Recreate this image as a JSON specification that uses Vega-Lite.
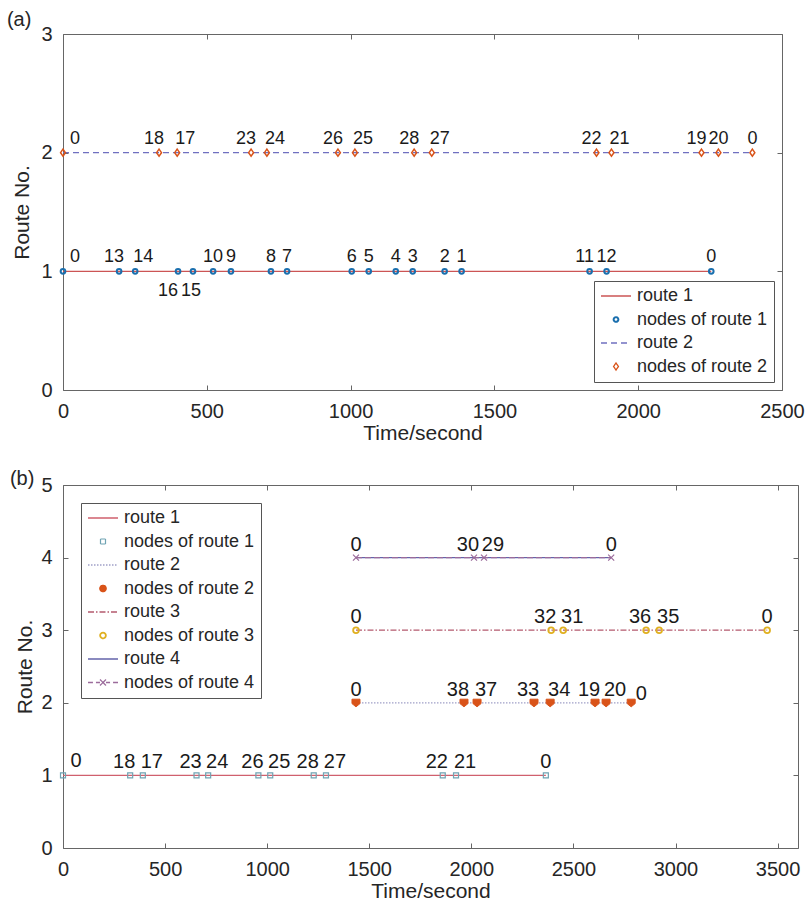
{
  "$schema": "https://vega.github.io/schema/vega-lite/v6.json",
  "background": "white",
  "padding": {"top": 9, "left": 6, "right": 0, "bottom": 0},
  "config": {
    "font": "Liberation Sans",
    "view": {"stroke": "#666", "strokeWidth": 1},
    "axis": {"grid": false, "domain": false, "tickColor": "#666", "tickWidth": 1, "labelColor": "#262626", "titleColor": "#262626", "labelFontSize": 20, "titleFontSize": 21, "titleFontWeight": "normal", "tickSize": -5, "labelPadding": 16, "format": "d", "labelFlush": false},
    "title": {"fontSize": 20, "fontWeight": "normal", "color": "#262626"},
    "legend": {"labelFontSize": 18, "labelColor": "#262626", "labelOffset": 12, "symbolOffset": 7, "strokeColor": "#555", "fillColor": "white", "padding": 6, "rowPadding": 5.5, "symbolSize": 900, "symbolType": "stroke", "symbolStrokeWidth": 1.3, "labelLimit": 300, "columns": 1}
  },
  "datasets": {
    "a": [
      {"route": 1, "t": 0, "node": "0", "series": "route 1", "nodes": "nodes of route 1"},
      {"route": 1, "t": 195, "node": "13", "series": "route 1", "nodes": "nodes of route 1"},
      {"route": 1, "t": 251, "node": "14", "series": "route 1", "nodes": "nodes of route 1"},
      {"route": 1, "t": 400, "node": "16", "series": "route 1", "nodes": "nodes of route 1"},
      {"route": 1, "t": 452, "node": "15", "series": "route 1", "nodes": "nodes of route 1"},
      {"route": 1, "t": 522, "node": "10", "series": "route 1", "nodes": "nodes of route 1"},
      {"route": 1, "t": 584, "node": "9", "series": "route 1", "nodes": "nodes of route 1"},
      {"route": 1, "t": 723, "node": "8", "series": "route 1", "nodes": "nodes of route 1"},
      {"route": 1, "t": 779, "node": "7", "series": "route 1", "nodes": "nodes of route 1"},
      {"route": 1, "t": 1004, "node": "6", "series": "route 1", "nodes": "nodes of route 1"},
      {"route": 1, "t": 1063, "node": "5", "series": "route 1", "nodes": "nodes of route 1"},
      {"route": 1, "t": 1157, "node": "4", "series": "route 1", "nodes": "nodes of route 1"},
      {"route": 1, "t": 1216, "node": "3", "series": "route 1", "nodes": "nodes of route 1"},
      {"route": 1, "t": 1327, "node": "2", "series": "route 1", "nodes": "nodes of route 1"},
      {"route": 1, "t": 1386, "node": "1", "series": "route 1", "nodes": "nodes of route 1"},
      {"route": 1, "t": 1831, "node": "11", "series": "route 1", "nodes": "nodes of route 1"},
      {"route": 1, "t": 1890, "node": "12", "series": "route 1", "nodes": "nodes of route 1"},
      {"route": 1, "t": 2254, "node": "0", "series": "route 1", "nodes": "nodes of route 1"},
      {"route": 2, "t": 0, "node": "0", "series": "route 2", "nodes": "nodes of route 2"},
      {"route": 2, "t": 334, "node": "18", "series": "route 2", "nodes": "nodes of route 2"},
      {"route": 2, "t": 397, "node": "17", "series": "route 2", "nodes": "nodes of route 2"},
      {"route": 2, "t": 654, "node": "23", "series": "route 2", "nodes": "nodes of route 2"},
      {"route": 2, "t": 709, "node": "24", "series": "route 2", "nodes": "nodes of route 2"},
      {"route": 2, "t": 956, "node": "26", "series": "route 2", "nodes": "nodes of route 2"},
      {"route": 2, "t": 1015, "node": "25", "series": "route 2", "nodes": "nodes of route 2"},
      {"route": 2, "t": 1221, "node": "28", "series": "route 2", "nodes": "nodes of route 2"},
      {"route": 2, "t": 1282, "node": "27", "series": "route 2", "nodes": "nodes of route 2"},
      {"route": 2, "t": 1855, "node": "22", "series": "route 2", "nodes": "nodes of route 2"},
      {"route": 2, "t": 1907, "node": "21", "series": "route 2", "nodes": "nodes of route 2"},
      {"route": 2, "t": 2220, "node": "19", "series": "route 2", "nodes": "nodes of route 2"},
      {"route": 2, "t": 2279, "node": "20", "series": "route 2", "nodes": "nodes of route 2"},
      {"route": 2, "t": 2397, "node": "0", "series": "route 2", "nodes": "nodes of route 2"}
    ],
    "b": [
      {"route": 1, "t": 0, "node": "0", "series": "route 1", "nodes": "nodes of route 1"},
      {"route": 1, "t": 329, "node": "18", "series": "route 1", "nodes": "nodes of route 1"},
      {"route": 1, "t": 391, "node": "17", "series": "route 1", "nodes": "nodes of route 1"},
      {"route": 1, "t": 654, "node": "23", "series": "route 1", "nodes": "nodes of route 1"},
      {"route": 1, "t": 711, "node": "24", "series": "route 1", "nodes": "nodes of route 1"},
      {"route": 1, "t": 957, "node": "26", "series": "route 1", "nodes": "nodes of route 1"},
      {"route": 1, "t": 1015, "node": "25", "series": "route 1", "nodes": "nodes of route 1"},
      {"route": 1, "t": 1228, "node": "28", "series": "route 1", "nodes": "nodes of route 1"},
      {"route": 1, "t": 1288, "node": "27", "series": "route 1", "nodes": "nodes of route 1"},
      {"route": 1, "t": 1860, "node": "22", "series": "route 1", "nodes": "nodes of route 1"},
      {"route": 1, "t": 1925, "node": "21", "series": "route 1", "nodes": "nodes of route 1"},
      {"route": 1, "t": 2365, "node": "0", "series": "route 1", "nodes": "nodes of route 1"},
      {"route": 2, "t": 1435, "node": "0", "series": "route 2", "nodes": "nodes of route 2"},
      {"route": 2, "t": 1964, "node": "38", "series": "route 2", "nodes": "nodes of route 2"},
      {"route": 2, "t": 2028, "node": "37", "series": "route 2", "nodes": "nodes of route 2"},
      {"route": 2, "t": 2307, "node": "33", "series": "route 2", "nodes": "nodes of route 2"},
      {"route": 2, "t": 2386, "node": "34", "series": "route 2", "nodes": "nodes of route 2"},
      {"route": 2, "t": 2606, "node": "19", "series": "route 2", "nodes": "nodes of route 2"},
      {"route": 2, "t": 2660, "node": "20", "series": "route 2", "nodes": "nodes of route 2"},
      {"route": 2, "t": 2783, "node": "0", "series": "route 2", "nodes": "nodes of route 2"},
      {"route": 3, "t": 1435, "node": "0", "series": "route 3", "nodes": "nodes of route 3"},
      {"route": 3, "t": 2391, "node": "32", "series": "route 3", "nodes": "nodes of route 3"},
      {"route": 3, "t": 2450, "node": "31", "series": "route 3", "nodes": "nodes of route 3"},
      {"route": 3, "t": 2856, "node": "36", "series": "route 3", "nodes": "nodes of route 3"},
      {"route": 3, "t": 2920, "node": "35", "series": "route 3", "nodes": "nodes of route 3"},
      {"route": 3, "t": 3449, "node": "0", "series": "route 3", "nodes": "nodes of route 3"},
      {"route": 4, "t": 1435, "node": "0", "series": "route 4", "nodes": "nodes of route 4"},
      {"route": 4, "t": 2013, "node": "30", "series": "route 4", "nodes": "nodes of route 4"},
      {"route": 4, "t": 2062, "node": "29", "series": "route 4", "nodes": "nodes of route 4"},
      {"route": 4, "t": 2685, "node": "0", "series": "route 4", "nodes": "nodes of route 4"}
    ]
  },
  "spacing": 24,
  "resolve": {"scale": {"color": "independent", "shape": "independent", "strokeDash": "independent"}, "legend": {"color": "independent"}},
  "vconcat": [
    {
      "width": 719,
      "height": 356,
      "title": {"text": "(a)", "anchor": "start", "frame": "bounds", "offset": -6, "dx": -5},
      "data": {"name": "a"},
      "layer": [
        {
          "mark": {"type": "line", "strokeWidth": 1.3},
          "encoding": {
            "x": {"field": "t", "type": "quantitative", "scale": {"domain": [0, 2500], "nice": false, "zero": false}, "axis": {"orient": "bottom", "values": [0, 500, 1000, 1500, 2000, 2500], "title": "Time/second", "titlePadding": 1}},
            "y": {"field": "route", "type": "quantitative", "scale": {"domain": [0, 3], "nice": false, "zero": false}, "axis": {"orient": "left", "values": [0, 1, 2, 3], "title": "Route No.", "titlePadding": 8}},
            "color": {
              "field": "series", "type": "nominal",
              "scale": {"domain": ["route 1", "nodes of route 1", "route 2", "nodes of route 2"], "range": ["#cc5555", "#1a6fae", "#7070c0", "#d95319"]},
              "legend": {
                "title": null, "orient": "bottom-right", "offset": 8,
                "encode": {"symbols": {"update": {
                  "shape": {"signal": "datum.value === 'nodes of route 1' ? 'circle' : datum.value === 'nodes of route 2' ? 'M0,-1L0.7,0L0,1L-0.7,0Z' : 'stroke'"},
                  "size": {"signal": "datum.value === 'nodes of route 1' ? 22 : datum.value === 'nodes of route 2' ? 49 : 900"},
                  "stroke": {"signal": "datum.value === 'route 1' ? '#cc5555' : datum.value === 'nodes of route 1' ? '#1a6fae' : datum.value === 'route 2' ? '#7070c0' : '#d95319'"},
                  "fill": {"value": "transparent"},
                  "strokeDash": {"signal": "datum.value === 'route 2' ? [6, 4] : [1, 0]"},
                  "strokeWidth": {"signal": "datum.value === 'nodes of route 1' ? 2 : 1.3"},
                  "opacity": {"value": 1}
                }}}
              }
            },
            "strokeDash": {"field": "series", "type": "nominal", "scale": {"domain": ["route 1", "route 2"], "range": [[1, 0], [6, 4]]}, "legend": null}
          }
        },
        {
          "transform": [{"filter": "datum.route === 1"}],
          "mark": {"type": "point", "filled": false, "strokeWidth": 2, "size": 22, "opacity": 1, "shape": "circle"},
          "encoding": {
            "x": {"field": "t", "type": "quantitative", "axis": null},
            "y": {"field": "route", "type": "quantitative", "axis": null},
            "color": {"field": "nodes", "type": "nominal"}
          }
        },
        {
          "transform": [{"filter": "datum.route === 2"}],
          "mark": {"type": "point", "filled": false, "strokeWidth": 1.5, "size": 49, "opacity": 1, "shape": "M0,-1L0.7,0L0,1L-0.7,0Z"},
          "encoding": {
            "x": {"field": "t", "type": "quantitative", "axis": null},
            "y": {"field": "route", "type": "quantitative", "axis": null},
            "color": {"field": "nodes", "type": "nominal"}
          }
        },
        {
          "transform": [{"filter": "datum.t > 0 && !(datum.route === 1 && indexof(['16','15','13','11','14'], datum.node) >= 0) && !(datum.route === 2 && indexof(['18','23','26','28','22','19','17','24','25','27','21'], datum.node) >= 0)"}],
          "mark": {"type": "text", "fontSize": 18, "color": "#1a1a1a", "dy": -9, "baseline": "alphabetic"},
          "encoding": {
            "x": {"field": "t", "type": "quantitative", "axis": {"orient": "top", "values": [0, 500, 1000, 1500, 2000, 2500], "labels": false, "title": null}},
            "y": {"field": "route", "type": "quantitative", "axis": {"orient": "right", "values": [0, 1, 2, 3], "labels": false, "title": null}},
            "text": {"field": "node"}
          }
        },
        {
          "transform": [{"filter": "(datum.route === 2 && indexof(['18','23','26','28','22','19'], datum.node) >= 0) || (datum.route === 1 && indexof(['13','11'], datum.node) >= 0)"}],
          "mark": {"type": "text", "fontSize": 18, "color": "#1a1a1a", "dx": -5, "dy": -9, "baseline": "alphabetic"},
          "encoding": {
            "x": {"field": "t", "type": "quantitative", "axis": null},
            "y": {"field": "route", "type": "quantitative", "axis": null},
            "text": {"field": "node"}
          }
        },
        {
          "transform": [{"filter": "(datum.route === 2 && indexof(['17','24','25','27','21'], datum.node) >= 0) || (datum.route === 1 && datum.node === '14')"}],
          "mark": {"type": "text", "fontSize": 18, "color": "#1a1a1a", "dx": 8, "dy": -9, "baseline": "alphabetic"},
          "encoding": {
            "x": {"field": "t", "type": "quantitative", "axis": null},
            "y": {"field": "route", "type": "quantitative", "axis": null},
            "text": {"field": "node"}
          }
        },
        {
          "transform": [{"filter": "datum.t === 0"}],
          "mark": {"type": "text", "fontSize": 18, "color": "#1a1a1a", "dx": 12, "dy": -9, "baseline": "alphabetic"},
          "encoding": {
            "x": {"field": "t", "type": "quantitative", "axis": null},
            "y": {"field": "route", "type": "quantitative", "axis": null},
            "text": {"field": "node"}
          }
        },
        {
          "transform": [{"filter": "datum.route === 1 && datum.node === '16'"}],
          "mark": {"type": "text", "fontSize": 18, "color": "#1a1a1a", "dx": -10, "dy": 25, "baseline": "alphabetic"},
          "encoding": {
            "x": {"field": "t", "type": "quantitative", "axis": null},
            "y": {"field": "route", "type": "quantitative", "axis": null},
            "text": {"field": "node"}
          }
        },
        {
          "transform": [{"filter": "datum.route === 1 && datum.node === '15'"}],
          "mark": {"type": "text", "fontSize": 18, "color": "#1a1a1a", "dx": -2, "dy": 25, "baseline": "alphabetic"},
          "encoding": {
            "x": {"field": "t", "type": "quantitative", "axis": null},
            "y": {"field": "route", "type": "quantitative", "axis": null},
            "text": {"field": "node"}
          }
        }
      ]
    },
    {
      "width": 735,
      "height": 363,
      "title": {"text": "(b)", "anchor": "start", "frame": "bounds", "offset": -14, "dx": -5},
      "data": {"name": "b"},
      "layer": [
        {
          "mark": {"type": "line", "strokeWidth": 1.3},
          "encoding": {
            "x": {"field": "t", "type": "quantitative", "scale": {"domain": [0, 3600], "nice": false, "zero": false}, "axis": {"orient": "bottom", "values": [0, 500, 1000, 1500, 2000, 2500, 3000, 3500], "title": "Time/second", "titlePadding": 1}},
            "y": {"field": "route", "type": "quantitative", "scale": {"domain": [0, 5], "nice": false, "zero": false}, "axis": {"orient": "left", "values": [0, 1, 2, 3, 4, 5], "title": "Route No.", "titlePadding": 5}},
            "color": {
              "field": "series", "type": "nominal",
              "scale": {"domain": ["route 1", "nodes of route 1", "route 2", "nodes of route 2", "route 3", "nodes of route 3", "route 4", "nodes of route 4"], "range": ["#d0606e", "#6fa3b3", "#a0a0c8", "#d95319", "#b45a6e", "#e0b020", "#6464aa", "#9b6b9b"]},
              "legend": {
                "title": null, "orient": "top-left", "offset": 18,
                "encode": {"symbols": {"update": {
                  "shape": {"signal": "datum.value === 'nodes of route 1' ? 'square' : datum.value === 'nodes of route 2' ? 'circle' : datum.value === 'nodes of route 3' ? 'circle' : datum.value === 'nodes of route 4' ? 'M-1,0L-0.67,0M-0.47,0L-0.2,0M0.2,0L0.47,0M0.67,0L1,0M-0.2,-0.2L0.2,0.2M-0.2,0.2L0.2,-0.2' : 'stroke'"},
                  "size": {"signal": "datum.value === 'nodes of route 1' ? 25 : datum.value === 'nodes of route 2' ? 40 : datum.value === 'nodes of route 3' ? 32 : 900"},
                  "stroke": {"signal": "datum.value === 'route 1' ? '#d0606e' : datum.value === 'nodes of route 1' ? '#6fa3b3' : datum.value === 'route 2' ? '#a0a0c8' : datum.value === 'nodes of route 2' ? '#d95319' : datum.value === 'route 3' ? '#b45a6e' : datum.value === 'nodes of route 3' ? '#e0b020' : datum.value === 'route 4' ? '#6464aa' : '#9b6b9b'"},
                  "fill": {"signal": "datum.value === 'nodes of route 2' ? '#d95319' : 'transparent'"},
                  "fillOpacity": {"value": 1},
                  "strokeDash": {"signal": "datum.value === 'route 2' ? [1.5, 1.5] : datum.value === 'route 3' ? [6, 2, 1.5, 2] : [1, 0]"},
                  "strokeWidth": {"signal": "datum.value === 'nodes of route 3' ? 1.8 : datum.value === 'nodes of route 1' ? 1.2 : 1.3"},
                  "opacity": {"value": 1}
                }}}
              }
            },
            "strokeDash": {"field": "series", "type": "nominal", "scale": {"domain": ["route 1", "route 2", "route 3", "route 4"], "range": [[1, 0], [1.5, 1.5], [6, 2, 1.5, 2], [1, 0]]}, "legend": null}
          }
        },
        {
          "transform": [{"filter": "datum.route === 4"}],
          "mark": {"type": "line", "strokeWidth": 1.2, "strokeDash": [6, 3]},
          "encoding": {
            "x": {"field": "t", "type": "quantitative", "axis": null},
            "y": {"field": "route", "type": "quantitative", "axis": null},
            "color": {"field": "nodes", "type": "nominal"}
          }
        },
        {
          "transform": [{"filter": "datum.route === 1"}],
          "mark": {"type": "point", "filled": false, "strokeWidth": 1.2, "size": 25, "opacity": 1, "shape": "square"},
          "encoding": {
            "x": {"field": "t", "type": "quantitative", "axis": null},
            "y": {"field": "route", "type": "quantitative", "axis": null},
            "color": {"field": "nodes", "type": "nominal"}
          }
        },
        {
          "transform": [{"filter": "datum.route === 2"}],
          "mark": {"type": "point", "filled": false, "fill": "#d95319", "fillOpacity": 1, "strokeWidth": 1, "size": 64, "opacity": 1, "shape": "M-1,-0.9L1,-0.9L1,0.2L0,1L-1,0.2Z"},
          "encoding": {
            "x": {"field": "t", "type": "quantitative", "axis": null},
            "y": {"field": "route", "type": "quantitative", "axis": null},
            "color": {"field": "nodes", "type": "nominal"}
          }
        },
        {
          "transform": [{"filter": "datum.route === 3"}],
          "mark": {"type": "point", "filled": false, "strokeWidth": 1.8, "size": 32, "opacity": 1, "shape": "circle"},
          "encoding": {
            "x": {"field": "t", "type": "quantitative", "axis": null},
            "y": {"field": "route", "type": "quantitative", "axis": null},
            "color": {"field": "nodes", "type": "nominal"}
          }
        },
        {
          "transform": [{"filter": "datum.route === 4"}],
          "mark": {"type": "point", "filled": false, "strokeWidth": 1.2, "size": 36, "opacity": 1, "shape": "M-1,-1L1,1M-1,1L1,-1"},
          "encoding": {
            "x": {"field": "t", "type": "quantitative", "axis": null},
            "y": {"field": "route", "type": "quantitative", "axis": null},
            "color": {"field": "nodes", "type": "nominal"}
          }
        },
        {
          "transform": [{"filter": "!(datum.route === 1 && datum.t === 0) && !(datum.route === 2 && datum.t > 2700) && !(datum.route === 4 && indexof(['30','29'], datum.node) >= 0) && !(datum.route === 3 && indexof(['32','36','31','35'], datum.node) >= 0) && !(datum.route === 2 && indexof(['38','33','19','37','34','20'], datum.node) >= 0) && !(datum.route === 1 && indexof(['18','23','26','28','22','17','24','25','27','21'], datum.node) >= 0)"}],
          "mark": {"type": "text", "fontSize": 20, "color": "#1a1a1a", "dy": -7, "baseline": "alphabetic"},
          "encoding": {
            "x": {"field": "t", "type": "quantitative", "axis": {"orient": "top", "values": [0, 500, 1000, 1500, 2000, 2500, 3000, 3500], "labels": false, "title": null}},
            "y": {"field": "route", "type": "quantitative", "axis": {"orient": "right", "values": [0, 1, 2, 3, 4, 5], "labels": false, "title": null}},
            "text": {"field": "node"}
          }
        },
        {
          "transform": [{"filter": "(datum.route === 4 && datum.node === '30') || (datum.route === 3 && indexof(['32','36'], datum.node) >= 0) || (datum.route === 2 && indexof(['38','33','19'], datum.node) >= 0) || (datum.route === 1 && indexof(['18','23','26','28','22'], datum.node) >= 0)"}],
          "mark": {"type": "text", "fontSize": 20, "color": "#1a1a1a", "dx": -6, "dy": -7, "baseline": "alphabetic"},
          "encoding": {
            "x": {"field": "t", "type": "quantitative", "axis": null},
            "y": {"field": "route", "type": "quantitative", "axis": null},
            "text": {"field": "node"}
          }
        },
        {
          "transform": [{"filter": "(datum.route === 4 && datum.node === '29') || (datum.route === 3 && indexof(['31','35'], datum.node) >= 0) || (datum.route === 2 && indexof(['37','34','20'], datum.node) >= 0) || (datum.route === 1 && indexof(['17','24','25','27','21'], datum.node) >= 0)"}],
          "mark": {"type": "text", "fontSize": 20, "color": "#1a1a1a", "dx": 9, "dy": -7, "baseline": "alphabetic"},
          "encoding": {
            "x": {"field": "t", "type": "quantitative", "axis": null},
            "y": {"field": "route", "type": "quantitative", "axis": null},
            "text": {"field": "node"}
          }
        },
        {
          "transform": [{"filter": "datum.route === 1 && datum.t === 0"}],
          "mark": {"type": "text", "fontSize": 20, "color": "#1a1a1a", "dx": 13, "dy": -8, "baseline": "alphabetic"},
          "encoding": {
            "x": {"field": "t", "type": "quantitative", "axis": null},
            "y": {"field": "route", "type": "quantitative", "axis": null},
            "text": {"field": "node"}
          }
        },
        {
          "transform": [{"filter": "datum.route === 2 && datum.t > 2700"}],
          "mark": {"type": "text", "fontSize": 20, "color": "#1a1a1a", "dx": 10, "dy": -3, "baseline": "alphabetic"},
          "encoding": {
            "x": {"field": "t", "type": "quantitative", "axis": null},
            "y": {"field": "route", "type": "quantitative", "axis": null},
            "text": {"field": "node"}
          }
        }
      ]
    }
  ]
}
